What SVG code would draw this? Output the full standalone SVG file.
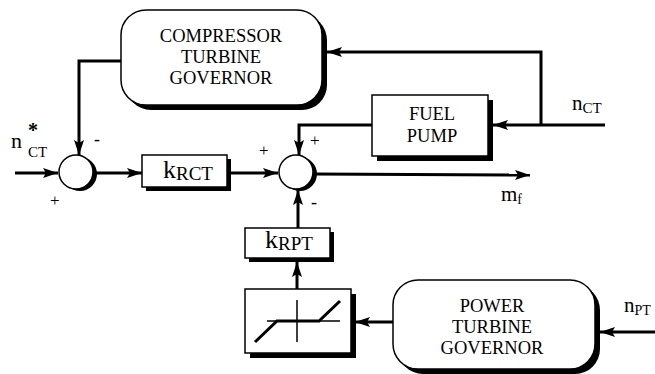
<svg xmlns="http://www.w3.org/2000/svg" width="655" height="374" viewBox="0 0 655 374">
<defs>
<style>
.ln{fill:none;stroke:#000;stroke-width:3}
.box{fill:#fff;stroke:#000;stroke-width:1.5}
.sh{fill:#000}
.t{font-family:"Liberation Serif","Times New Roman",serif;fill:#000}
.lab{font-family:"Liberation Serif","Times New Roman",serif;fill:#000;font-size:18.5px;text-anchor:middle}
</style>
<marker id="ah" markerUnits="userSpaceOnUse" markerWidth="16" markerHeight="12" refX="15" refY="6" orient="auto">
<path d="M0,1 L15,6 L0,11 L3,6 z" fill="#000"/>
</marker>
</defs>
<rect width="655" height="374" fill="#fff"/>

<g id="connectors">
<path class="ln" d="M15,173 L58,173" marker-end="url(#ah)"/>
<path class="ln" d="M121,61 L79,61 L79,155" marker-end="url(#ah)"/>
<path class="ln" d="M94,173 L142,173" marker-end="url(#ah)"/>
<path class="ln" d="M231,173 L278,173" marker-end="url(#ah)"/>
<path class="ln" d="M372,125 L299,125 L299,155" marker-end="url(#ah)"/>
<path class="ln" d="M605,125 L493,125" marker-end="url(#ah)"/>
<path class="ln" d="M541,125 L541,52 L327,52" marker-end="url(#ah)"/>
<path class="ln" d="M313,174 L530,175" marker-end="url(#ah)"/>
<path class="ln" d="M298,228 L298,190" marker-end="url(#ah)"/>
<path class="ln" d="M297,289 L297,262" marker-end="url(#ah)"/>
<path class="ln" d="M393,322 L355,322" marker-end="url(#ah)"/>
<path class="ln" d="M655,332 L600,332" marker-end="url(#ah)"/>
</g>

<g id="ctg">
<rect class="sh" x="126" y="15" width="201" height="95" rx="25"/>
<rect class="box" x="121" y="10" width="201" height="95" rx="25"/>
<text class="lab" x="221" y="42">COMPRESSOR</text>
<text class="lab" x="221" y="63">TURBINE</text>
<text class="lab" x="221" y="84">GOVERNOR</text>
</g>

<g id="sum1">
<circle class="sh" cx="80" cy="174" r="17"/>
<circle class="box" cx="76" cy="172" r="17"/>
</g>

<g id="krct">
<rect class="sh" x="146" y="159" width="85" height="32"/>
<rect class="box" x="142" y="155" width="85" height="32"/>
<text class="t" x="188" y="178" text-anchor="middle" font-size="26">k<tspan font-size="19" dy="2">RCT</tspan></text>
</g>

<g id="sum2">
<circle class="sh" cx="300" cy="174" r="17"/>
<circle class="box" cx="296" cy="172" r="17"/>
</g>

<g id="fuelpump">
<rect class="sh" x="377" y="100" width="116" height="61"/>
<rect class="box" x="372" y="95" width="116" height="61"/>
<text class="lab" x="432" y="120" font-size="17.5">FUEL</text>
<text class="lab" x="432" y="142" font-size="17.5">PUMP</text>
</g>

<g id="krpt">
<rect class="sh" x="249" y="232" width="85" height="30"/>
<rect class="box" x="245" y="228" width="85" height="30"/>
<text class="t" x="289" y="248" text-anchor="middle" font-size="26">k<tspan font-size="19" dy="2">RPT</tspan></text>
</g>

<g id="deadzone">
<rect class="sh" x="250" y="294" width="106" height="64"/>
<rect class="box" x="245" y="289" width="106" height="64"/>
<path d="M297,300 L297,342 M267,321 L340,321" stroke="#000" stroke-width="1.5" fill="none"/>
<path d="M255,342 L277,321 L319,321 L340,301" stroke="#000" stroke-width="3" fill="none"/>
</g>

<g id="ptg">
<rect class="sh" x="398" y="285" width="202" height="89" rx="25"/>
<rect class="box" x="393" y="280" width="202" height="89" rx="25"/>
<text class="lab" x="492" y="312">POWER</text>
<text class="lab" x="492" y="333">TURBINE</text>
<text class="lab" x="492" y="354">GOVERNOR</text>
</g>

<g id="labels">
<text class="t" x="11" y="148" font-size="22">n</text>
<text class="t" x="28" y="137" font-size="20" font-weight="bold">*</text>
<text class="t" x="28" y="157" font-size="15">CT</text>
<text class="t" x="572" y="110" font-size="21">n<tspan font-size="15" dy="3">CT</tspan></text>
<text class="t" x="501" y="201" font-size="21">m<tspan font-size="14" dy="3">f</tspan></text>
<text class="t" x="624" y="312" font-size="21">n<tspan font-size="14" dy="3">PT</tspan></text>
<text class="t" x="94" y="145" font-size="18">-</text>
<text class="t" x="50" y="206" font-size="17">+</text>
<text class="t" x="259" y="156" font-size="17">+</text>
<text class="t" x="310" y="146" font-size="17">+</text>
<text class="t" x="311" y="208" font-size="18">-</text>
</g>
</svg>
